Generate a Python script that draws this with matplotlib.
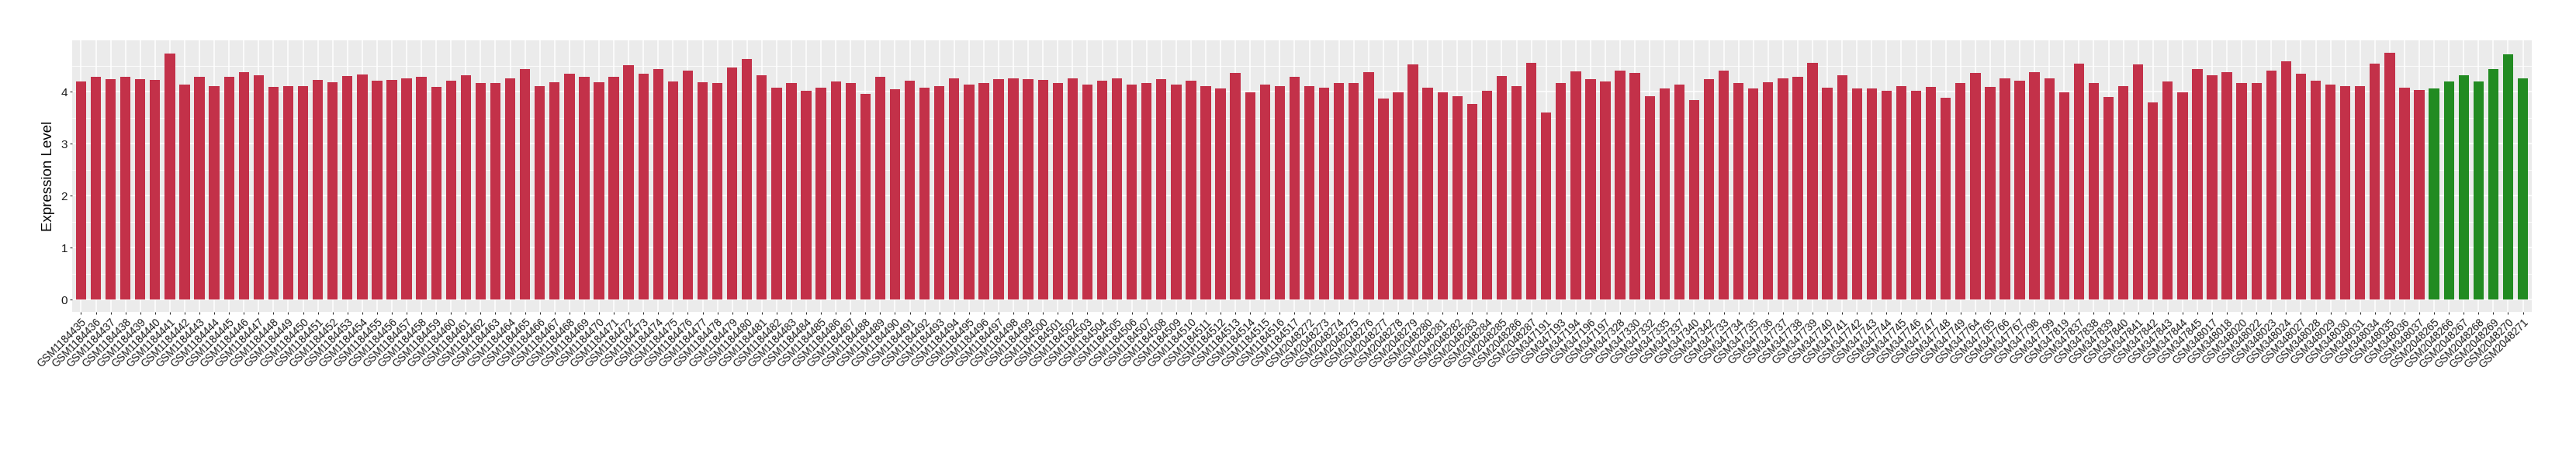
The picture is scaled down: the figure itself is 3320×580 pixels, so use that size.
import matplotlib
matplotlib.use("Agg")
import matplotlib.pyplot as plt
from matplotlib.ticker import MultipleLocator

plt.rcParams['font.family'] = ['Liberation Sans', 'DejaVu Sans']

# ---- data ----
samples_1184 = ["GSM1184435", "GSM1184436", "GSM1184437", "GSM1184438", "GSM1184439", "GSM1184440",
                "GSM1184441", "GSM1184442", "GSM1184443", "GSM1184444", "GSM1184445", "GSM1184446",
                "GSM1184447", "GSM1184448", "GSM1184449", "GSM1184450", "GSM1184451", "GSM1184452",
                "GSM1184453", "GSM1184454", "GSM1184455", "GSM1184456", "GSM1184457", "GSM1184458",
                "GSM1184459", "GSM1184460", "GSM1184461", "GSM1184462", "GSM1184463", "GSM1184464",
                "GSM1184465", "GSM1184466", "GSM1184467", "GSM1184468", "GSM1184469", "GSM1184470",
                "GSM1184471", "GSM1184472", "GSM1184473", "GSM1184474", "GSM1184475", "GSM1184476",
                "GSM1184477", "GSM1184478", "GSM1184479", "GSM1184480", "GSM1184481", "GSM1184482",
                "GSM1184483", "GSM1184484", "GSM1184485", "GSM1184486", "GSM1184487", "GSM1184488",
                "GSM1184489", "GSM1184490", "GSM1184491", "GSM1184492", "GSM1184493", "GSM1184494",
                "GSM1184495", "GSM1184496", "GSM1184497", "GSM1184498", "GSM1184499", "GSM1184500",
                "GSM1184501", "GSM1184502", "GSM1184503", "GSM1184504", "GSM1184505", "GSM1184506",
                "GSM1184507", "GSM1184508", "GSM1184509", "GSM1184510", "GSM1184511", "GSM1184512",
                "GSM1184513", "GSM1184514", "GSM1184515", "GSM1184516", "GSM1184517"]
values_1184 = [4.19, 4.28, 4.24, 4.29, 4.24, 4.22, 4.73, 4.13, 4.28, 4.10, 4.29, 4.37, 4.32, 4.09,
               4.11, 4.11, 4.22, 4.18, 4.30, 4.33, 4.21, 4.22, 4.25, 4.28, 4.09, 4.21, 4.32, 4.16,
               4.17, 4.26, 4.43, 4.10, 4.18, 4.35, 4.28, 4.18, 4.29, 4.51, 4.35, 4.44, 4.20, 4.41,
               4.18, 4.16, 4.47, 4.63, 4.32, 4.07, 4.16, 4.02, 4.07, 4.20, 4.17, 3.95, 4.29, 4.05,
               4.21, 4.07, 4.11, 4.25, 4.14, 4.17, 4.24, 4.26, 4.24, 4.22, 4.16, 4.26, 4.14, 4.21,
               4.26, 4.13, 4.17, 4.24, 4.14, 4.21, 4.11, 4.06, 4.36, 3.99, 4.14, 4.11, 4.28]

samples_2048a = ["GSM2048272", "GSM2048273", "GSM2048274", "GSM2048275", "GSM2048276", "GSM2048277",
                 "GSM2048278", "GSM2048279", "GSM2048280", "GSM2048281", "GSM2048282", "GSM2048283",
                 "GSM2048284", "GSM2048285", "GSM2048286", "GSM2048287"]
values_2048a = [4.10, 4.07, 4.16, 4.16, 4.37, 3.87, 3.99, 4.52, 4.07, 3.98, 3.92, 3.76, 4.02, 4.30,
                4.10, 4.56]

samples_347 = ["GSM347191", "GSM347193", "GSM347194", "GSM347196", "GSM347197", "GSM347328",
               "GSM347330", "GSM347332", "GSM347335", "GSM347337", "GSM347340", "GSM347342",
               "GSM347733", "GSM347734", "GSM347735", "GSM347736", "GSM347737", "GSM347738",
               "GSM347739", "GSM347740", "GSM347741", "GSM347742", "GSM347743", "GSM347744",
               "GSM347745", "GSM347746", "GSM347747", "GSM347748", "GSM347749", "GSM347764",
               "GSM347765", "GSM347766", "GSM347767", "GSM347798", "GSM347799", "GSM347819",
               "GSM347837", "GSM347838", "GSM347839", "GSM347840", "GSM347841", "GSM347842",
               "GSM347843", "GSM347844", "GSM347845"]
values_347 = [3.60, 4.16, 4.39, 4.24, 4.20, 4.41, 4.36, 3.91, 4.06, 4.14, 3.84, 4.24, 4.40, 4.16,
              4.06, 4.18, 4.26, 4.28, 4.55, 4.07, 4.32, 4.06, 4.06, 4.02, 4.10, 4.02, 4.09, 3.88,
              4.17, 4.36, 4.09, 4.25, 4.21, 4.37, 4.26, 3.98, 4.54, 4.16, 3.90, 4.10, 4.52, 3.80,
              4.20, 3.98, 4.43]

samples_348 = ["GSM348017", "GSM348018", "GSM348020", "GSM348022", "GSM348023", "GSM348024",
               "GSM348027", "GSM348028", "GSM348029", "GSM348030", "GSM348031", "GSM348034",
               "GSM348035", "GSM348036", "GSM348037"]
values_348 = [4.32, 4.37, 4.17, 4.16, 4.40, 4.59, 4.35, 4.21, 4.13, 4.11, 4.11, 4.54, 4.75, 4.07,
              4.03]

samples_green = ["GSM2048265", "GSM2048266", "GSM2048267", "GSM2048268", "GSM2048269",
                 "GSM2048270", "GSM2048271"]
values_green = [4.06, 4.20, 4.32, 4.20, 4.44, 4.72, 4.26]

red_color = "#C33149"
green_color = "#228B22"

# ---- assemble ----
red_labels = samples_1184 + samples_2048a + samples_347 + samples_348
red_values = values_1184 + values_2048a + values_347 + values_348
labels = red_labels + samples_green
values = red_values + values_green
colors = [red_color] * len(red_values) + [green_color] * len(values_green)
n = len(labels)
x = list(range(n))

fig = plt.figure(figsize=(33.2, 5.8), dpi=100)
ax = fig.add_axes([93 / 3320, 1 - 402 / 580, (3263 - 93) / 3320, (402 - 52) / 580])

ax.set_facecolor("#EBEBEB")
ax.bar(x, values, width=0.7, color=colors, zorder=3)

vmax = max(values)
ax.set_ylim(-0.05 * vmax, 1.05 * vmax)
ax.set_xlim(-0.6, n - 1 + 0.6)

ax.yaxis.set_major_locator(MultipleLocator(1))
ax.yaxis.set_minor_locator(MultipleLocator(0.5))
ax.set_xticks(x)
ax.set_xticklabels(labels, rotation=45, ha="right", va="top", rotation_mode="anchor",
                   fontsize=9.8, color="#1A1A1A")
ax.tick_params(axis="y", which="major", labelsize=11, labelcolor="#1A1A1A", color="#333333",
               length=2.4, width=0.8, pad=2)
ax.tick_params(axis="y", which="minor", length=0)
ax.tick_params(axis="x", color="#333333", length=2.4, width=0.8, pad=2)

ax.grid(True, which="major", axis="both", color="white", linewidth=1.1, zorder=0)
ax.grid(True, which="minor", axis="y", color="white", linewidth=0.55, zorder=0)
ax.set_axisbelow(True)
for s in ax.spines.values():
    s.set_visible(False)

ax.set_ylabel("Expression Level", fontsize=13.5, color="black", labelpad=5)

fig.savefig("out.png", dpi=100, facecolor="white")
